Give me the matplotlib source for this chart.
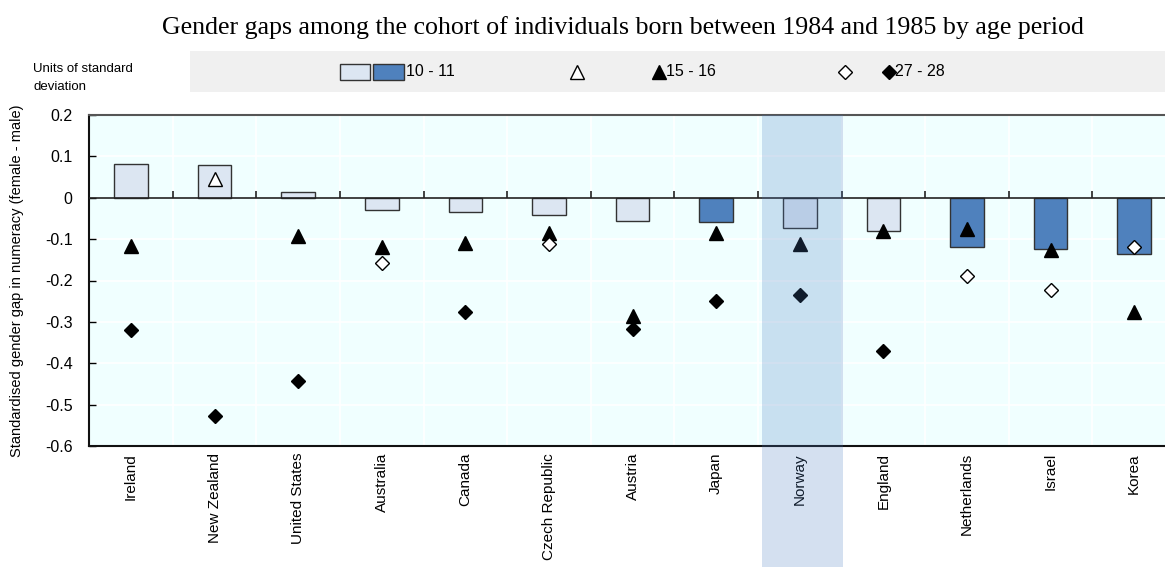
import numpy as np
import matplotlib
matplotlib.use('Agg')
import matplotlib.pyplot as plt
from matplotlib.patches import Rectangle
from matplotlib.transforms import blended_transform_factory

plt.rcParams['font.family'] = ['Liberation Sans', 'DejaVu Sans']

countries = ['Ireland', 'New Zealand', 'United States', 'Australia', 'Canada',
             'Czech Republic', 'Austria', 'Japan', 'Norway', 'England',
             'Netherlands', 'Israel', 'Korea']
# age 10-11 (bars), dark bar = significant
age10 = [0.082, 0.079, 0.015, -0.029, -0.035, -0.041, -0.056, -0.058,
         -0.072, -0.080, -0.120, -0.123, -0.135]
sig10 = [0, 0, 0, 0, 0, 0, 0, 1, 0, 0, 1, 1, 1]
# age 15-16 (triangles), filled = significant
age15 = [-0.116, 0.045, -0.092, -0.118, -0.109, -0.085, -0.287, -0.085,
         -0.111, -0.081, -0.076, -0.127, -0.275]
sig15 = [1, 0, 1, 1, 1, 1, 1, 1, 1, 1, 1, 1, 1]
# age 27-28 (diamonds), filled = significant
age27 = [-0.319, -0.528, -0.442, -0.158, -0.276, -0.111, -0.317, -0.249,
         -0.236, -0.371, -0.190, -0.222, -0.118]
sig27 = [1, 1, 1, 0, 1, 0, 1, 1, 1, 1, 0, 0, 0]
highlight = 'Norway'

light = '#DCE6F2'
dark = '#4F81BD'

W, H = 1165, 567
fig = plt.figure(figsize=(W / 100, H / 100), dpi=100)

# main axes (last category runs past the figure edge)
x0, x1, ytop, ybot = 89.2, 1176, 115, 446
ax = fig.add_axes([x0 / W, 1 - ybot / H, (x1 - x0) / W, (ybot - ytop) / H])
ax.set_facecolor('#F0FFFF')

x = np.arange(len(countries))
bar_colors = [dark if s else light for s in sig10]
ax.bar(x, age10, width=0.4, color=bar_colors, edgecolor='#333333',
       linewidth=1, zorder=3)

a15 = np.array(age15)
s15 = np.array(sig15, bool)
ax.plot(x[s15], a15[s15], ls='none', marker='^', ms=10, mfc='black',
        mec='black', zorder=4)
ax.plot(x[~s15], a15[~s15], ls='none', marker='^', ms=10, mfc='white',
        mec='black', mew=1, zorder=4)

a27 = np.array(age27)
s27 = np.array(sig27, bool)
ax.plot(x[s27], a27[s27], ls='none', marker='D', ms=7.4, mfc='black',
        mec='black', zorder=4)
ax.plot(x[~s27], a27[~s27], ls='none', marker='D', ms=7.2, mfc='white',
        mec='black', mew=1, zorder=4)

ax.set_xlim(-0.5, len(countries) - 0.5)
ax.set_ylim(-0.6, 0.2)
ax.set_yticks(np.arange(-0.6, 0.21, 0.1))
ax.set_yticklabels(['-0.6', '-0.5', '-0.4', '-0.3', '-0.2', '-0.1', '0',
                    '0.1', '0.2'])
ax.set_xticks(x)
ax.set_xticklabels(countries, rotation=90)
ax.tick_params(axis='x', length=0, pad=5, labelsize=11)
ax.tick_params(axis='y', direction='in', length=5, width=1, pad=12,
               labelsize=11.5)

# grid
for b in np.arange(0.5, len(countries) - 0.5, 1):
    ax.axvline(b, color='white', lw=1.2, zorder=1)
for yv in np.arange(-0.5, 0.2, 0.1):
    ax.axhline(yv, color='white', lw=1.2, zorder=1)

# zero line with small ticks at category boundaries
ax.axhline(0, color='#222222', lw=1.2, zorder=3.5)
ax.vlines(np.arange(0.5, len(countries) - 0.5, 1), 0, 0.017,
          color='#222222', lw=1.2, zorder=3.5)

ax.spines['right'].set_visible(False)
ax.spines['left'].set_color('#111111')
ax.spines['left'].set_linewidth(1.5)
ax.spines['bottom'].set_color('#111111')
ax.spines['bottom'].set_linewidth(1.5)
ax.spines['top'].set_color('#555555')
ax.spines['top'].set_linewidth(1.5)

ax.set_ylabel('Standardised gender gap in numeracy (female - male)',
              fontsize=10.5)
ax.yaxis.set_label_coords((24 - x0) / (x1 - x0), 0.5)

# highlight band for Norway
hi = countries.index(highlight)
tr = blended_transform_factory(ax.transData, fig.transFigure)
fig.patches.append(Rectangle((hi - 0.455, 0), 0.97, 1 - ytop / H,
                             transform=tr, facecolor='#467ABF', alpha=0.23,
                             edgecolor='none', zorder=10))

# title
fig.text(622.5 / W, 1 - 28 / H,
         'Gender gaps among the cohort of individuals born between 1984 and 1985 by age period',
         ha='center', va='center', fontsize=18.6, family='Liberation Serif')

# legend band
lg = fig.add_axes([190 / W, 1 - 92 / H, (W - 190) / W, 41 / H])
lg.set_facecolor('#F0F0F0')
lg.set_xlim(190, W)
lg.set_ylim(92, 51)
lg.set_xticks([])
lg.set_yticks([])
for s in lg.spines.values():
    s.set_visible(False)
ym = 72
lg.add_patch(Rectangle((340, ym - 8), 30, 16, facecolor=light,
                       edgecolor='#333333', lw=1))
lg.add_patch(Rectangle((373, ym - 8), 31, 16, facecolor=dark,
                       edgecolor='#333333', lw=1))
lg.text(406, ym, '10 - 11', va='center', ha='left', fontsize=11.5)
lg.plot([577], [ym], marker='^', ms=10, mfc='white', mec='black', mew=1)
lg.plot([659], [ym], marker='^', ms=10, mfc='black', mec='black')
lg.text(666, ym, '15 - 16', va='center', ha='left', fontsize=11.5)
lg.plot([845], [ym], marker='D', ms=7.2, mfc='white', mec='black', mew=1)
lg.plot([889], [ym], marker='D', ms=7.2, mfc='black', mec='black')
lg.text(895, ym, '27 - 28', va='center', ha='left', fontsize=11.5)

fig.text(33 / W, 1 - 78 / H, 'Units of standard\ndeviation', ha='left',
         va='center', fontsize=9.5, linespacing=1.6)

fig.savefig('out.png', dpi=100)
